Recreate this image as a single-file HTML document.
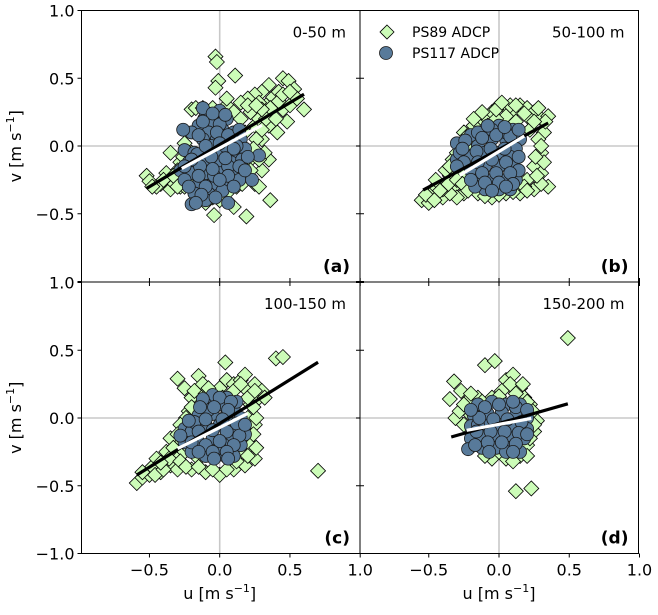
<!DOCTYPE html>
<html><head><meta charset="utf-8"><style>
body{margin:0;background:#fff}
svg{font-family:"DejaVu Sans","Liberation Sans",sans-serif}
</style></head><body>
<svg id="c" width="658" height="610" xmlns="http://www.w3.org/2000/svg"></svg>
<script>
const panelNames=['a','b','c','d'];
const depthLabels=['0-50 m','50-100 m','100-150 m','150-200 m'];
const green_a=[[-0.03,0.66],[-0.02,0.62],[-0.01,0.48],[-0.03,0.43],[0.11,0.52],[0.45,0.5],[0.49,0.48],[0.53,0.42],[0.6,0.27],[0.45,0.27],[0.48,0.18],[0.41,0.1],[0.36,-0.4],[0.19,-0.52],[-0.04,-0.51],[-0.35,-0.05],[-0.52,-0.22],[-0.5,-0.26],[-0.2,0.27],[-0.17,0.28],[0.35,0.45],[0.3,0.4],[0.38,0.36],[0.25,0.38],[0.2,0.35],[0.33,0.3],[0.28,0.32],[0.4,0.3],[0.15,0.32],[0.05,0.3],[-0.05,0.28],[-0.1,0.22],[-0.28,-0.12],[-0.3,-0.18],[-0.38,-0.2],[-0.42,-0.28],[-0.45,-0.3],[-0.35,-0.32],[-0.28,-0.3],[-0.22,-0.25],[-0.15,-0.32],[-0.05,-0.38],[0.05,-0.35],[0.1,-0.45],[0.25,-0.28],[0.3,-0.18],[0.35,-0.1],[0.32,-0.05],[0.3,0.05],[0.35,0.15],[0.38,0.22],[0.22,0.25],[0.25,0.15],[0.28,0.2],[0.22,-0.1],[0.18,-0.22],[0.28,-0.3],[0.2,0.3],[-0.2,-0.05],[-0.25,0.02],[-0.15,0.1],[-0.08,0.2],[0.1,0.25],[0.12,-0.3],[-0.1,-0.42],[0.0,-0.4],[-0.3,-0.25],[-0.25,-0.2],[0.42,0.4],[0.5,0.3],[0.55,0.35],[0.33,0.2],[0.15,0.2],[0.18,0.1],[0.42,0.33],[0.36,0.28],[0.3,0.27],[0.26,0.3],[0.4,0.2],[0.3,0.12],[0.26,0.05],[0.24,-0.02],[0.28,-0.1],[0.22,-0.18],[0.16,-0.28],[-0.18,-0.3],[-0.25,-0.3],[-0.32,-0.28],[-0.4,-0.25],[-0.33,-0.22],[-0.22,-0.15],[-0.26,-0.08],[-0.12,0.28],[0.05,0.35],[0.45,0.38],[0.5,0.4],[-0.48,-0.3],[-0.3,-0.3]];
const blue_a=[[-0.1,0.22],[0.0,0.26],[-0.05,0.18],[0.05,0.2],[-0.15,0.15],[-0.08,0.1],[0.02,0.12],[0.1,0.1],[-0.2,0.1],[-0.12,0.05],[-0.02,0.05],[0.08,0.02],[0.15,0.05],[-0.25,-0.03],[-0.18,-0.05],[-0.08,-0.02],[0.02,-0.05],[0.12,-0.05],[0.18,-0.02],[-0.22,-0.12],[-0.12,-0.12],[-0.02,-0.12],[0.08,-0.12],[0.16,-0.1],[-0.28,-0.18],[-0.2,-0.2],[-0.1,-0.2],[0.0,-0.2],[0.1,-0.2],[-0.25,-0.25],[-0.15,-0.28],[-0.05,-0.28],[0.05,-0.28],[0.14,-0.25],[-0.18,-0.35],[-0.08,-0.35],[0.02,-0.33],[-0.2,-0.43],[-0.1,-0.4],[0.06,-0.42],[0.28,-0.07],[0.23,-0.25],[-0.12,0.28],[-0.06,0.0],[0.04,0.0],[-0.16,-0.06],[0.0,0.16],[-0.14,-0.15],[0.06,-0.15],[-0.04,-0.22],[0.12,0.0],[-0.26,0.12],[-0.05,0.24],[0.04,0.23],[-0.12,0.18],[-0.02,0.1],[0.06,0.08],[0.14,0.12],[-0.1,0.0],[0.0,0.02],[0.1,-0.02],[-0.2,-0.1],[-0.06,-0.08],[0.04,-0.09],[0.14,-0.15],[-0.25,-0.15],[-0.15,-0.22],[-0.05,-0.17],[0.06,-0.22],[-0.22,-0.3],[-0.1,-0.3],[0.0,-0.25],[0.1,-0.3],[-0.13,-0.36],[-0.03,-0.38],[-0.15,0.08],[0.2,-0.08],[0.18,-0.18],[-0.17,-0.42]];
const green_b=[[-0.55,-0.4],[-0.5,-0.42],[-0.48,-0.35],[-0.45,-0.3],[-0.4,-0.38],[-0.38,-0.28],[-0.35,-0.22],[-0.32,-0.3],[-0.3,-0.15],[-0.28,-0.08],[-0.25,-0.2],[-0.22,-0.1],[-0.2,0.0],[-0.18,0.05],[-0.15,0.12],[-0.12,0.18],[-0.1,0.22],[-0.05,0.25],[0.0,0.3],[0.05,0.28],[0.1,0.25],[0.15,0.3],[0.2,0.28],[0.25,0.25],[0.3,0.2],[0.32,0.1],[0.28,0.05],[0.3,-0.05],[0.25,-0.15],[0.3,-0.2],[0.35,-0.3],[0.25,-0.32],[0.15,-0.35],[0.05,-0.35],[-0.05,-0.38],[-0.15,-0.35],[-0.25,-0.35],[-0.3,-0.38],[-0.35,-0.35],[-0.2,-0.28],[0.0,-0.3],[0.2,-0.25],[0.22,0.2],[-0.08,0.15],[0.12,0.18],[-0.25,0.1],[-0.28,0.0],[-0.38,-0.18],[-0.45,-0.25],[0.35,0.22],[0.28,0.28],[0.22,0.12],[-0.12,-0.3],[0.1,-0.28],[0.05,0.22],[-0.02,0.2],[-0.33,-0.1],[0.18,-0.3],[-0.4,-0.32],[-0.52,-0.36],[-0.46,-0.4],[-0.42,-0.33],[-0.36,-0.28],[-0.3,-0.25],[-0.26,-0.28],[-0.22,-0.33],[-0.1,-0.37],[0.0,-0.36],[0.1,-0.34],[0.2,-0.33],[0.3,-0.28],[0.27,-0.22],[0.32,-0.12],[0.26,-0.08],[0.3,0.0],[0.33,0.18],[0.25,0.18],[0.18,0.24],[0.08,0.3],[-0.02,0.27],[-0.12,0.25],[-0.18,0.15],[-0.22,0.08],[-0.24,-0.05],[-0.3,-0.05],[-0.35,-0.15],[-0.18,0.2],[0.02,0.32],[0.12,0.3]];
const blue_b=[[-0.3,0.02],[-0.3,-0.1],[-0.28,-0.05],[-0.2,0.08],[-0.1,0.12],[0.0,0.15],[0.1,0.12],[0.15,0.05],[-0.15,0.0],[-0.05,0.05],[0.05,0.05],[0.12,-0.02],[-0.2,-0.08],[-0.1,-0.05],[0.0,-0.05],[0.08,-0.08],[-0.2,-0.18],[-0.1,-0.15],[0.0,-0.15],[0.1,-0.15],[-0.15,-0.25],[-0.05,-0.25],[0.05,-0.25],[0.12,-0.25],[-0.1,-0.32],[0.0,-0.32],[-0.15,0.1],[-0.05,0.12],[0.05,0.1],[-0.25,-0.12],[-0.17,-0.3],[0.08,-0.32],[-0.24,0.04],[-0.12,0.06],[-0.02,0.08],[0.08,0.07],[0.14,0.12],[-0.16,-0.04],[-0.06,-0.02],[0.04,-0.02],[0.14,-0.08],[-0.26,-0.02],[-0.15,-0.12],[-0.05,-0.1],[0.05,-0.12],[0.14,-0.18],[-0.12,-0.2],[-0.02,-0.2],[0.08,-0.2],[-0.2,-0.25],[-0.1,-0.27],[0.0,-0.27],[0.1,-0.28],[-0.05,-0.33],[0.05,-0.3],[-0.08,0.15],[0.04,0.14],[-0.3,-0.15]];
const green_c=[[-0.59,-0.48],[-0.55,-0.44],[-0.5,-0.42],[-0.48,-0.36],[-0.42,-0.4],[-0.4,-0.32],[-0.35,-0.35],[-0.38,-0.25],[-0.32,-0.28],[-0.3,-0.2],[-0.28,-0.12],[-0.25,-0.25],[-0.25,-0.05],[-0.22,0.05],[-0.2,0.15],[-0.3,0.29],[-0.15,0.31],[-0.25,0.22],[-0.18,0.2],[-0.1,0.18],[0.04,0.41],[0.0,0.22],[0.05,0.28],[0.1,0.25],[0.15,0.28],[0.2,0.2],[0.25,0.25],[0.22,0.1],[0.28,0.15],[0.4,0.44],[0.45,0.45],[0.2,0.0],[0.25,-0.05],[0.2,-0.12],[0.22,-0.2],[0.25,-0.3],[0.18,-0.35],[0.1,-0.38],[0.0,-0.42],[-0.1,-0.4],[-0.2,-0.38],[-0.3,-0.38],[0.7,-0.39],[-0.45,-0.3],[-0.15,-0.3],[0.1,0.12],[-0.05,0.12],[0.15,-0.25],[-0.35,-0.15],[-0.12,0.25],[0.3,0.2],[0.05,-0.3],[-0.2,-0.15],[0.18,0.32],[-0.55,-0.4],[-0.46,-0.42],[-0.4,-0.38],[-0.36,-0.3],[-0.33,-0.22],[-0.28,-0.32],[-0.24,-0.36],[-0.15,-0.36],[-0.05,-0.38],[0.05,-0.38],[0.12,-0.32],[0.2,-0.28],[0.26,-0.22],[0.24,-0.12],[0.26,0.0],[0.24,0.08],[0.2,0.15],[0.1,0.2],[0.02,0.15],[-0.08,0.22],[-0.2,0.08],[-0.24,0.0],[-0.28,-0.05],[-0.22,-0.22],[0.25,0.2],[0.32,0.15],[-0.3,-0.12],[-0.42,-0.33],[0.15,0.25]];
const blue_c=[[-0.05,0.17],[0.05,0.15],[-0.1,0.1],[0.0,0.1],[0.1,0.08],[-0.15,0.02],[-0.05,0.03],[0.05,0.02],[0.15,0.0],[-0.25,-0.08],[-0.2,-0.1],[-0.1,-0.05],[0.0,-0.05],[0.1,-0.08],[0.18,-0.12],[-0.25,-0.18],[-0.15,-0.18],[-0.05,-0.15],[0.05,-0.18],[0.15,-0.2],[-0.2,-0.25],[-0.1,-0.28],[0.0,-0.27],[0.1,-0.28],[0.0,-0.22],[-0.08,0.06],[0.08,-0.12],[-0.18,-0.03],[0.12,0.12],[-0.12,0.14],[0.0,0.15],[0.08,0.12],[-0.14,0.08],[-0.04,0.08],[0.06,0.06],[-0.22,-0.02],[-0.1,-0.01],[0.02,-0.01],[0.12,-0.04],[-0.15,-0.1],[-0.05,-0.09],[0.05,-0.1],[0.14,-0.13],[-0.2,-0.18],[-0.1,-0.2],[0.0,-0.17],[0.1,-0.2],[-0.15,-0.25],[-0.05,-0.25],[0.05,-0.25],[-0.04,-0.3],[0.06,-0.3],[-0.28,-0.13],[0.18,-0.05]];
const green_d=[[0.49,0.59],[-0.1,0.39],[-0.03,0.42],[0.12,-0.54],[0.23,-0.52],[-0.32,0.27],[-0.35,0.14],[-0.31,0.0],[-0.27,0.2],[-0.22,0.13],[-0.28,0.05],[-0.25,-0.05],[-0.2,0.02],[0.05,0.28],[0.1,0.32],[0.02,0.2],[0.15,0.22],[0.18,0.15],[0.22,0.1],[0.27,-0.02],[0.25,-0.1],[0.2,-0.2],[0.15,-0.28],[0.05,-0.3],[-0.05,-0.3],[0.08,0.25],[-0.05,0.15],[-0.15,0.15],[-0.12,0.12],[0.0,0.16],[0.12,0.18],[0.2,0.12],[0.24,0.05],[0.25,-0.05],[0.22,-0.15],[0.12,-0.25],[0.0,-0.25],[-0.1,-0.28],[-0.18,-0.2],[0.1,-0.32],[0.2,-0.28],[-0.25,0.1],[-0.2,0.18],[0.17,0.25]];
const blue_d=[[-0.15,0.1],[-0.05,0.12],[0.05,0.1],[0.15,0.1],[-0.18,0.02],[-0.08,0.03],[0.02,0.04],[0.12,0.02],[0.2,0.0],[-0.2,-0.06],[-0.1,-0.06],[0.0,-0.05],[0.1,-0.07],[0.2,-0.08],[-0.2,-0.15],[-0.12,-0.14],[-0.02,-0.14],[0.08,-0.15],[0.18,-0.15],[-0.22,-0.23],[-0.12,-0.22],[-0.02,-0.22],[0.08,-0.22],[0.15,-0.25],[0.05,-0.25],[-0.15,-0.05],[0.12,0.08],[-0.1,0.08],[0.0,0.1],[0.1,0.12],[-0.14,0.0],[-0.04,-0.01],[0.06,-0.01],[0.16,-0.03],[-0.16,-0.1],[-0.06,-0.1],[0.04,-0.1],[0.14,-0.11],[-0.08,-0.18],[0.02,-0.18],[0.12,-0.19],[-0.17,-0.2],[-0.07,-0.25],[0.1,-0.25],[-0.2,0.06],[0.2,0.06],[0.2,-0.12]];
// fits: [slope, intercept, uStart, uEnd]
const fitGreen=[[0.62,0.01,-0.52,0.6],[0.556,-0.025,-0.54,0.35],[0.645,-0.04,-0.59,0.7],[0.295,-0.04,-0.34,0.49]];
const fitBlue=[[0.56,-0.015,-0.27,0.3],[0.63,-0.04,-0.28,0.18],[0.52,-0.07,-0.3,0.2],[0.19,-0.047,-0.23,0.23]];
const xTicks=[-0.5,0.0,0.5,1.0];
const yTicks=[-1.0,-0.5,0.0,0.5,1.0];
const greens=[green_a,green_b,green_c,green_d];
const blues=[blue_a,blue_b,blue_c,blue_d];

const NS='http://www.w3.org/2000/svg';
const svg=document.getElementById('c');
function mk(tag,attrs,parent){const e=document.createElementNS(NS,tag);for(const k in attrs)e.setAttribute(k,attrs[k]);(parent||svg).appendChild(e);return e;}
const SX=140.5,SY=135.5;
const panels=[{x0:219.7,y0:146,L:81.5,R:360,T:10.5,B:282},{x0:499,y0:146,L:360,R:638.5,T:10.5,B:282},{x0:219.7,y0:418,L:81.5,R:360,T:282,B:553.5},{x0:499,y0:418,L:360,R:638.5,T:282,B:553.5}];
const defs=mk('defs',{});
panels.forEach((p,i)=>{
  const cp=mk('clipPath',{id:'cl'+i},defs);
  mk('rect',{x:p.L,y:p.T,width:p.R-p.L,height:p.B-p.T},cp);
});
panels.forEach((p,i)=>{
  const sx=u=>p.x0+u*SX, sy=v=>p.y0-v*SY;
  const g=mk('g',{'clip-path':'url(#cl'+i+')'});
  
  
  const gl1=mk('line',{x1:sx(0),x2:sx(0),y1:p.T,y2:p.B,stroke:'#c8c8c8','stroke-width':1.6},g);
  
  
  const gl2=mk('line',{x1:p.L,x2:p.R,y1:sy(0),y2:sy(0),stroke:'#c8c8c8','stroke-width':1.6},g);
  
  
  greens[i].forEach(d=>{
    const x=sx(d[0]),y=sy(d[1]),r=7.5;
    const e=mk('polygon',{points:`${x},${y-r} ${x+r},${y} ${x},${y+r} ${x-r},${y}`,fill:'#ccfcb8',stroke:'#000','stroke-width':0.8},g);
    
    
  });
  blues[i].forEach(d=>{
    const e=mk('circle',{cx:sx(d[0]),cy:sy(d[1]),r:6.5,fill:'#587a9a',stroke:'#1a1a1a','stroke-width':0.8},g);
    
    
  });
  const fg=fitGreen[i],fb=fitBlue[i];
  const l1=mk('line',{x1:sx(fg[2]),y1:sy(fg[0]*fg[2]+fg[1]),x2:sx(fg[3]),y2:sy(fg[0]*fg[3]+fg[1]),stroke:'#000','stroke-width':3.2},g);
  
  
  const l2=mk('line',{x1:sx(fb[2]),y1:sy(fb[0]*fb[2]+fb[1]),x2:sx(fb[3]),y2:sy(fb[0]*fb[3]+fb[1]),stroke:'#fff','stroke-width':3.2},g);
  
  
  const fr=mk('rect',{x:p.L,y:p.T,width:p.R-p.L,height:p.B-p.T,fill:'none',stroke:'#000','stroke-width':1});
  
  
  const dl=mk('text',{x:p.R-14,y:p.T+27,'text-anchor':'end','font-size':15});
  dl.textContent=depthLabels[i];
  
  
  const pl=mk('text',{x:p.R-10,y:p.B-10,'text-anchor':'end','font-size':17,'font-weight':'bold'});
  pl.textContent='('+panelNames[i]+')';
  
  
  if(i%2===0){
    yTicks.forEach(t=>{
      mk('line',{x1:p.L-4,x2:p.L,y1:sy(t),y2:sy(t),stroke:'#000'});
      mk('line',{x1:p.R-4,x2:p.R+4,y1:sy(t),y2:sy(t),stroke:'#000'});
      if(i<2 && t===-1.0) return;
      const tl=mk('text',{x:p.L-7,y:sy(t)+6,'text-anchor':'end','font-size':16});
      tl.textContent=t.toFixed(1).replace('-','\u2212');
      
      
    });
  }
  if(i>=2){
    xTicks.forEach(t=>{
      mk('line',{x1:sx(t),x2:sx(t),y1:p.B,y2:p.B+4,stroke:'#000'});
      mk('line',{x1:sx(t),x2:sx(t),y1:p.T-4,y2:p.T+4,stroke:'#000'});
      const tl=mk('text',{x:sx(t),y:p.B+22,'text-anchor':'middle','font-size':16});
      tl.textContent=t.toFixed(1).replace('-','\u2212');
      
      
    });
    const xl=mk('text',{x:sx(0),y:599,'text-anchor':'middle','font-size':16});
    xl.innerHTML='u [m s<tspan dy="-7" font-size="11">\u22121</tspan><tspan dy="7">]</tspan>';
    
    
  }
  if(i%2===0){
    const yc=(p.T+p.B)/2;
    const yl=mk('text',{x:21,y:yc,'text-anchor':'middle','font-size':16,transform:`rotate(-90 21 ${yc})`});
    yl.innerHTML='v [m s<tspan dy="-7" font-size="11">\u22121</tspan><tspan dy="7">]</tspan>';
    
    
  }
});
const lg=mk('g',{});


mk('polygon',{points:'387,25 394,32 387,39 380,32',fill:'#ccfcb8',stroke:'#000','stroke-width':0.8},lg);
mk('circle',{cx:386,cy:53,r:6.5,fill:'#587a9a',stroke:'#1a1a1a','stroke-width':0.8},lg);
const t1=mk('text',{x:412,y:37,'font-size':14},lg);t1.textContent='PS89 ADCP';


const t2=mk('text',{x:412,y:58,'font-size':14},lg);t2.textContent='PS117 ADCP';


</script>
</body></html>
